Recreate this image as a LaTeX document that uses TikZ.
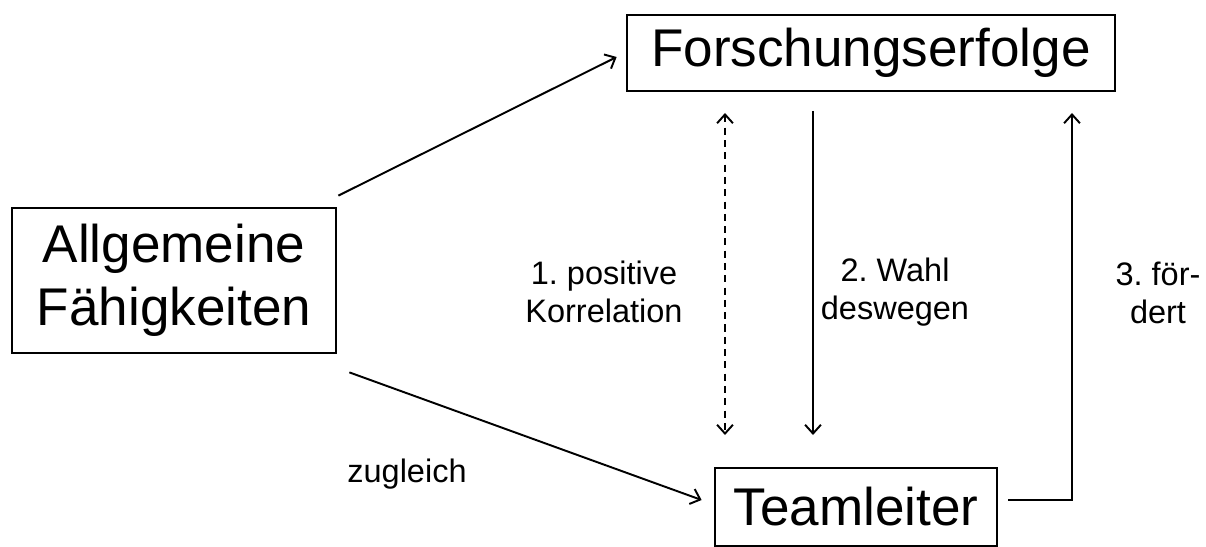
\documentclass[tikz,border=0pt]{standalone}
\usepackage{fontspec}
\setmainfont{Liberation Sans}
\usetikzlibrary{arrows.meta}
\frenchspacing
\begin{document}
\begin{tikzpicture}[x=0.02cm, y=-0.02cm, >={Straight Barb[length=5pt,width=9pt]},
  box/.style={draw, line width=1.6pt, inner sep=0pt, align=center,
    font=\fontsize{30.2}{35.7}\selectfont},
  lbl/.style={align=center, font=\fontsize{18.5}{22}\selectfont},
  con/.style={->, line width=1.1pt}]
  \useasboundingbox (0,0) rectangle (1206,547);

  % Kästen
  \node[box, minimum width=9.76cm, minimum height=1.52cm] (forsch) at (871,53) {Forschungserfolge};
  \node[box, minimum width=6.48cm, minimum height=2.9cm] (allg) at (174,280.5) {Allgemeine\\Fähigkeiten};
  \node[box, minimum width=5.64cm, minimum height=1.56cm] (team) at (856,507) {Teamleiter};

  % Pfeile von den Fähigkeiten aus
  \draw[con] ([shift={(1,-11)}]allg.north east) -- ([shift={(-9,4)}]forsch.west);
  \draw[con] ([shift={(12,18)}]allg.south east) -- ([shift={(-12,-7)}]team.west);

  % senkrechte Pfeile zwischen Erfolg und Teamleiter
  \coordinate (k1) at (725,113);
  \coordinate (k2) at (725,435);
  \coordinate (w1) at (813,111);
  \coordinate (w2) at (813,435);
  \coordinate (f1) at (1072,113);
  \draw[con, <->, dash pattern=on 4pt off 3pt] (k1) -- (k2);
  \draw[con] (w1) -- (w2);
  \draw[con] ([shift={(10,-7)}]team.east) -| (f1);

  % Beschriftungen
  \node[lbl] (korr) at (604,292) {1. positive\\Korrelation};
  \node[lbl] (wahl) at (895,292) {2. Wahl\\deswegen};
  \node[lbl] (foer) at (1158,293) {3. för-\\dert};
  \node[lbl] (zugl) at (407,474) {zugleich};
\end{tikzpicture}
\end{document}
